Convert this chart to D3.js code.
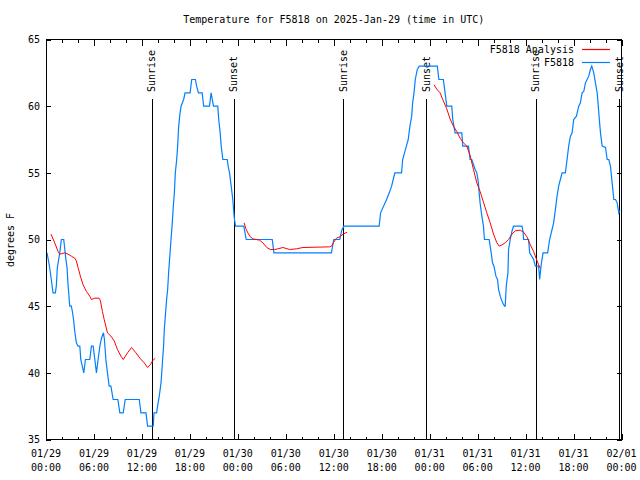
<!DOCTYPE html>
<html>
<head>
<meta charset="utf-8">
<script src="https://cdn.jsdelivr.net/npm/d3@7"></script>
<style>
  body { margin: 0; background: #fff; }
  svg { display: block; }
  text { font-family: "DejaVu Sans Mono", monospace; font-size: 10px; fill: #000; }
</style>
</head>
<body>
<script>
// observed temperatures (hours after 01/29 00:00 UTC, degrees F)
var obsHours = [0.13, 0.46, 0.66, 0.88, 1.17, 1.29, 1.42, 1.72, 1.92, 2.22, 2.47, 2.63, 2.76, 2.97, 3.17,
  3.30, 3.47, 3.60, 3.80, 4.01, 4.23, 4.35, 4.73, 4.93, 5.48, 5.68, 5.90, 6.11, 6.31, 6.52, 6.74,
  6.94, 7.19, 7.31, 7.49, 7.69, 7.90, 8.12, 8.40, 8.99, 9.24, 9.66, 9.91, 11.67, 11.88, 12.51,
  12.71, 13.42, 13.51, 13.84, 13.96, 14.17, 14.39, 14.51, 14.59, 14.71, 14.80, 14.93, 15.09, 15.22,
  15.34, 15.52, 15.64, 15.77, 15.93, 16.06, 16.18, 16.35, 16.47, 16.60, 16.77, 16.90, 17.22, 17.40,
  18.03, 18.23, 18.69, 18.85, 19.07, 19.53, 19.73, 20.45, 20.66, 20.95, 21.49, 21.61, 21.79, 21.92,
  22.12, 22.67, 22.79, 22.96, 23.17, 23.37, 23.50, 23.58, 23.71, 24.75, 25.05, 28.31, 28.51, 35.71,
  36.00, 36.75, 37.00, 37.26, 41.68, 41.86, 42.61, 42.94, 43.24, 43.44, 43.65, 44.49, 44.62, 45.32,
  45.53, 45.75, 45.87, 46.04, 46.20, 46.45, 46.70, 48.96, 49.15, 49.71, 49.93, 50.14, 50.76, 50.89,
  51.18, 52.02, 52.14, 52.85, 53.06, 53.27, 53.69, 53.90, 54.10, 54.19, 54.31, 54.53, 54.73, 54.85,
  55.44, 55.57, 55.70, 55.86, 56.04, 56.29, 56.49, 56.62, 56.83, 57.12, 57.37, 57.45, 57.58, 57.79,
  57.87, 58.08, 58.29, 58.49, 59.55, 59.68, 59.75, 60.38, 60.51, 61.01, 61.22, 61.63, 61.76, 61.93,
  62.18, 62.76, 63.01, 63.31, 63.51, 63.72, 63.94, 64.14, 64.35, 64.57, 64.98, 65.19, 65.39, 65.61,
  65.82, 66.02, 66.36, 66.65, 66.86, 67.07, 67.28, 67.49, 67.70, 67.90, 68.11, 68.28, 68.53, 68.74,
  68.96, 69.16, 69.37, 69.58, 70.00, 70.21, 70.41, 70.62, 70.83, 71.04, 71.25, 71.46, 71.66, 71.80];
var obsTemps = [49, 47.9, 47, 46, 46, 46.5, 47.9, 49, 50, 50, 48.6, 47.9, 46.6, 45, 45,
  44.6, 43.9, 43.1, 42.25, 42, 42, 41, 40, 41, 41, 42, 42, 41, 40, 41, 42,
  42.6, 43, 42.5, 41, 40, 39, 39, 38, 38, 37, 37, 38, 38, 37, 37,
  36, 36, 37, 37, 37.5, 38.25, 39.25, 40.25, 41, 42, 43.25, 44.25, 45.5, 46.25,
  47.5, 49, 50, 51, 52.5, 53.5, 55, 56, 57, 58.5, 59.5, 60, 60.5, 61,
  61, 62, 62, 61.5, 61, 61, 60, 60, 61, 60, 60, 59, 58, 57,
  56, 56, 55.5, 55, 54, 53, 52, 51.5, 51, 51, 50, 50, 49, 49,
  50, 50, 50.7, 51, 51, 52, 53, 53.5, 54, 54.5, 55, 55, 56, 57.5,
  58.5, 59.25, 60.25, 61, 62, 62.75, 63, 63, 62, 62, 61, 60, 60, 59,
  58, 58, 57, 57, 56, 56, 55.25, 55, 54.25, 53.5, 52.75, 51.75, 51, 50,
  50, 49.5, 49, 48.25, 48, 47.25, 47, 46.25, 45.75, 45.25, 45, 45, 46.5, 47.5,
  49.25, 50, 50.6, 51, 51, 50.6, 50, 50, 49, 48.5, 48, 48, 47, 48,
  49, 49, 50, 50.75, 51.25, 52.2, 53.25, 54, 54.5, 55, 55, 56, 57, 57.75,
  58, 59, 59.25, 60, 60.25, 61, 61.1, 61.75, 62, 62.25, 62.75, 63, 62.5, 61.75,
  61, 59.5, 58, 57, 56.9, 56, 56, 55.5, 54.25, 53, 53, 52.75, 52, 52.2];

// analysis temperatures, null marks a break between runs
var anaHours = [0.63, 1.09, 1.51, 1.72, 2.35, 2.76, 3.17, 3.60, 3.80, 4.01, 4.30, 4.64, 5.06, 5.48,
  5.68, 6.11, 6.65, 6.81, 7.06, 7.28, 7.69, 8.12, 8.53, 8.94, 9.37, 9.66, 10.20, 10.70, 11.25,
  11.75, 12.29, 12.71, 13.05, 13.33, 13.67, null,
  24.78, 25.05, 25.25, 25.55, 25.88, 26.72, 27.13, 27.63, 28.06, 28.60, 29.01, 29.64, 30.48,
  31.32, 32.15, 35.50, 35.71, 36.00, 36.34, 36.75, 37.17, 37.67, null,
  48.55, 48.92, 49.30, 49.71, 50.14, 50.55, 50.97, 51.40, 51.81, 52.22, 52.65, 53.06, 53.48,
  53.90, 54.31, 54.73, 55.15, 55.57, 55.99, 56.41, 56.70, 57.04, 57.45, 57.87, 58.29, 58.71,
  59.34, 59.75, 60.17, 60.59, 61.01, 61.34, 61.63, 61.84];
var anaTemps = [50.4, 49.75, 49.1, 48.9, 49, 48.9, 48.75, 48.6, 48.4, 47.9, 47.25, 46.6, 46.1, 45.75,
  45.5, 45.6, 45.6, 45.4, 44.6, 44, 43, 42.75, 42.4, 41.75, 41.25, 41, 41.5, 41.9, 41.5,
  41.1, 40.75, 40.4, 40.6, 40.9, 41.1, null,
  51.25, 50.75, 50.5, 50.2, 50.05, 49.95, 49.75, 49.4, 49.25, 49.25, 49.3, 49.4, 49.25,
  49.3, 49.4, 49.45, 49.5, 49.8, 50.1, 50.2, 50.4, 50.55, null,
  61.6, 61.25, 61, 60.4, 59.8, 59.05, 58.5, 58.1, 57.6, 57.25, 57, 56.3, 55.25,
  54.25, 53.6, 52.8, 52, 51.25, 50.4, 49.75, 49.5, 49.6, 49.75, 50, 50.4, 50.65,
  50.7, 50.55, 50.2, 49.6, 49.1, 48.55, 48.1, 47.85];

// sunrise / sunset times
var sunHours = [13.21, 23.50, 37.17, 47.58, 61.28, 71.71];
var sunLabels = ["Sunrise", "Sunset", "Sunrise", "Sunset", "Sunrise", "Sunset"];

// axis ticks
var xTickHours = [0, 6, 12, 18, 24, 30, 36, 42, 48, 54, 60, 66, 72];
var xTickDates = ["01/29", "01/29", "01/29", "01/29", "01/30", "01/30", "01/30", "01/30",
  "01/31", "01/31", "01/31", "01/31", "02/01"];
var xTickTimes = ["00:00", "06:00", "12:00", "18:00", "00:00", "06:00", "12:00", "18:00",
  "00:00", "06:00", "12:00", "18:00", "00:00"];
var yTicks = [35, 40, 45, 50, 55, 60, 65];

var seriesNames = ["F5818 Analysis", "F5818"];
var seriesColors = ["#ff0000", "#0080ff"];

(function() {
    var width = 640, height = 480;
    var plotLeft = 46, plotRight = 621.5, plotTop = 39.5, plotBottom = 439.5;

    var svg = d3.select("body").append("svg")
        .attr("width", width)
        .attr("height", height);

    var x = d3.scaleLinear().domain([0, 72]).range([plotLeft, plotRight]);
    var y = d3.scaleLinear().domain([35, 65]).range([plotBottom, plotTop]);

    var minorHours = d3.range(0, 73, 2);

    // ticks, inward on all four sides
    svg.append("g")
        .attr("transform", "translate(0," + plotBottom + ")")
        .call(d3.axisBottom(x).tickValues(minorHours).tickSize(-3).tickFormat(""));
    svg.append("g")
        .attr("transform", "translate(0," + plotBottom + ")")
        .call(d3.axisBottom(x).tickValues(xTickHours).tickSize(-6).tickFormat(""));
    svg.append("g")
        .attr("transform", "translate(0," + plotTop + ")")
        .call(d3.axisTop(x).tickValues(minorHours).tickSize(-3).tickFormat(""));
    svg.append("g")
        .attr("transform", "translate(0," + plotTop + ")")
        .call(d3.axisTop(x).tickValues(xTickHours).tickSize(-6).tickFormat(""));
    svg.append("g")
        .attr("class", "yaxis")
        .attr("transform", "translate(" + plotLeft + ",0)")
        .call(d3.axisLeft(y).tickValues(yTicks).tickSize(-5).tickPadding(6).tickFormat(d3.format("d")));
    svg.append("g")
        .attr("transform", "translate(" + plotRight + ",0)")
        .call(d3.axisRight(y).tickValues(yTicks).tickSize(-5).tickFormat(""));

    svg.selectAll(".domain").remove();
    svg.selectAll(".tick line").attr("stroke", "#000").attr("shape-rendering", "crispEdges");
    svg.selectAll(".yaxis text")
        .attr("fill", "#000")
        .style("font-family", "DejaVu Sans Mono, monospace")
        .style("font-size", "10px");

    // x labels, two lines
    var xl = svg.append("g").selectAll("text")
        .data(xTickHours)
        .enter().append("text")
        .attr("text-anchor", "middle");
    xl.append("tspan")
        .attr("x", function(d) { return x(d); })
        .attr("y", 457)
        .text(function(d, i) { return xTickDates[i]; });
    xl.append("tspan")
        .attr("x", function(d) { return x(d); })
        .attr("y", 471)
        .text(function(d, i) { return xTickTimes[i]; });

    // sunrise / sunset markers
    var sun = svg.append("g").selectAll("g")
        .data(sunHours)
        .enter().append("g");
    sun.append("line")
        .attr("x1", function(d) { return Math.round(x(d)) + 0.5; })
        .attr("x2", function(d) { return Math.round(x(d)) + 0.5; })
        .attr("y1", 99)
        .attr("y2", plotBottom)
        .attr("stroke", "#000")
        .attr("shape-rendering", "crispEdges");
    sun.append("text")
        .attr("transform", function(d) { return "translate(" + x(d) + ",92) rotate(-90)"; })
        .attr("dy", "0.35em")
        .text(function(d, i) { return sunLabels[i]; });

    // data lines
    var line = d3.line()
        .defined(function(d) { return d[1] !== null; })
        .x(function(d) { return x(d[0]); })
        .y(function(d) { return y(d[1]); });

    var anaData = anaHours.map(function(h, i) { return [h, anaTemps[i]]; });
    var obsData = obsHours.map(function(h, i) { return [h, obsTemps[i]]; });

    svg.append("path")
        .datum(obsData)
        .attr("d", line)
        .attr("fill", "none")
        .attr("stroke", seriesColors[1])
        .attr("stroke-width", 1.2);

    svg.append("path")
        .datum(anaData)
        .attr("d", line)
        .attr("fill", "none")
        .attr("stroke", seriesColors[0])
        .attr("stroke-width", 1);

    // border
    svg.append("rect")
        .attr("x", plotLeft)
        .attr("y", plotTop)
        .attr("width", plotRight - plotLeft)
        .attr("height", plotBottom - plotTop)
        .attr("fill", "none")
        .attr("stroke", "#000")
        .attr("shape-rendering", "crispEdges");

    // legend
    var legend = svg.append("g").selectAll("g")
        .data(seriesNames)
        .enter().append("g")
        .attr("transform", function(d, i) { return "translate(0," + (49.5 + i * 13) + ")"; });
    legend.append("text")
        .attr("x", 574)
        .attr("dy", "0.35em")
        .attr("text-anchor", "end")
        .text(function(d) { return d; });
    legend.append("line")
        .attr("x1", 582)
        .attr("x2", 610)
        .attr("stroke", function(d, i) { return seriesColors[i]; })
        .attr("stroke-width", 1.2);

    // title and y label
    svg.append("text")
        .attr("x", (plotLeft + plotRight) / 2)
        .attr("y", 23)
        .attr("text-anchor", "middle")
        .text("Temperature for F5818 on 2025-Jan-29 (time in UTC)");

    svg.append("text")
        .attr("transform", "translate(10,240) rotate(-90)")
        .attr("text-anchor", "middle")
        .attr("dy", "0.35em")
        .text("degrees F");
})();
</script>
</body>
</html>
